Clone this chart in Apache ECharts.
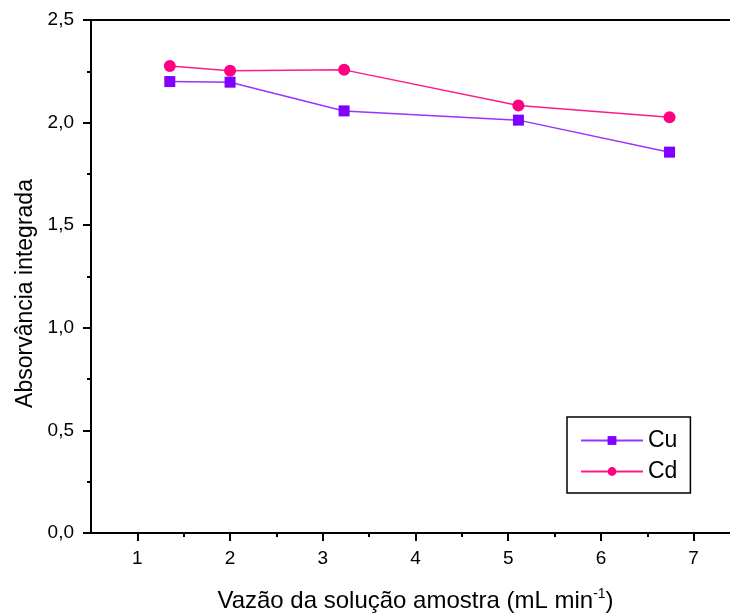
<!DOCTYPE html>
<html>
<head>
<meta charset="utf-8">
<script src="https://cdn.jsdelivr.net/npm/echarts@6/dist/echarts.min.js"></script>
<style>
  html, body { margin: 0; padding: 0; background: #fff; }
  #chart { width: 730px; height: 613px; }
</style>
</head>
<body>
<div id="chart"></div>
<script>
// vazão (mL/min) e absorvância integrada
const cuX = [1.35, 2.0, 3.23, 5.11, 6.74]
const cuY = [2.200, 2.197, 2.057, 2.012, 1.856]
const cdX = [1.35, 2.0, 3.23, 5.11, 6.74]
const cdY = [2.276, 2.253, 2.257, 2.083, 2.026]
const xMajor = [1, 2, 3, 4, 5, 6, 7]
const xMinor = [1.5, 2.5, 3.5, 4.5, 5.5, 6.5]

const font = 'Liberation Sans, Arial, sans-serif'
const chart = echarts.init(document.getElementById('chart'))

function pairs(xs, ys) {
  return xs.map((x, i) => [x, ys[i]])
}

const option = {
  animation: false,
  grid: {
    left: 91,
    top: 20,
    width: 649, // runs past the right edge of the picture
    bottom: 80,
    outerBoundsMode: 'none'
  },
  legend: {
    orient: 'vertical',
    left: 567,
    top: 417,
    padding: [12, 13, 10, 13],
    itemWidth: 62,
    itemHeight: 11,
    itemGap: 8,
    borderColor: '#000',
    borderWidth: 1.5,
    textStyle: { fontFamily: font, fontSize: 23, color: '#000' },
    data: ['Cu', 'Cd']
  },
  xAxis: [
    {
      type: 'value',
      min: 0.5,
      max: 7.5,
      splitLine: { show: false },
      axisLine: { onZero: false, lineStyle: { color: '#000', width: 2 } },
      axisTick: { customValues: xMajor, length: 8, lineStyle: { color: '#000', width: 2 } },
      axisLabel: { customValues: xMajor, fontFamily: font, fontSize: 19, color: '#000', margin: 16 },
      name: '{a|Vazão da solução amostra (mL min}{s|-1}{a|)}',
      nameLocation: 'middle',
      nameGap: 54,
      nameTextStyle: {
        rich: {
          a: { fontFamily: font, fontSize: 24, color: '#000' },
          s: { fontFamily: font, fontSize: 14, color: '#000', verticalAlign: 'top', padding: [0, 0, 14, 0] }
        }
      }
    },
    {
      type: 'value',
      position: 'bottom',
      min: 0.5,
      max: 7.5,
      splitLine: { show: false },
      axisLine: { show: false },
      axisTick: { customValues: xMinor, length: 4, lineStyle: { color: '#000', width: 2 } },
      axisLabel: { show: false }
    },
    {
      type: 'value',
      position: 'top',
      min: 0.5,
      max: 7.5,
      splitLine: { show: false },
      axisLine: { onZero: false, lineStyle: { color: '#000', width: 2 } },
      axisTick: { show: false },
      axisLabel: { show: false }
    }
  ],
  yAxis: {
    type: 'value',
    min: 0,
    max: 2.5,
    interval: 0.5,
    splitLine: { show: false },
    axisLine: { onZero: false, lineStyle: { color: '#000', width: 2 } },
    axisTick: { length: 8, lineStyle: { color: '#000', width: 2 } },
    minorTick: { show: true, splitNumber: 2, length: 4, lineStyle: { color: '#000', width: 2 } },
    axisLabel: {
      fontFamily: font,
      fontSize: 19,
      color: '#000',
      margin: 17,
      formatter: v => v.toFixed(1).replace('.', ',')
    },
    name: 'Absorvância integrada',
    nameLocation: 'middle',
    nameGap: 52,
    nameTextStyle: { fontFamily: font, fontSize: 23, color: '#000', padding: [0, 34, 0, 0] }
  },
  series: [
    {
      name: 'Cu',
      type: 'line',
      data: pairs(cuX, cuY),
      symbol: 'rect',
      symbolSize: 11,
      itemStyle: { color: '#8000ff' },
      lineStyle: { color: '#9933ff', width: 1.5 }
    },
    {
      name: 'Cd',
      type: 'line',
      data: pairs(cdX, cdY),
      symbol: 'circle',
      symbolSize: 12,
      itemStyle: { color: '#ff0080' },
      lineStyle: { color: '#ff1a8c', width: 1.5 }
    }
  ]
}

chart.setOption(option)
</script>
</body>
</html>
